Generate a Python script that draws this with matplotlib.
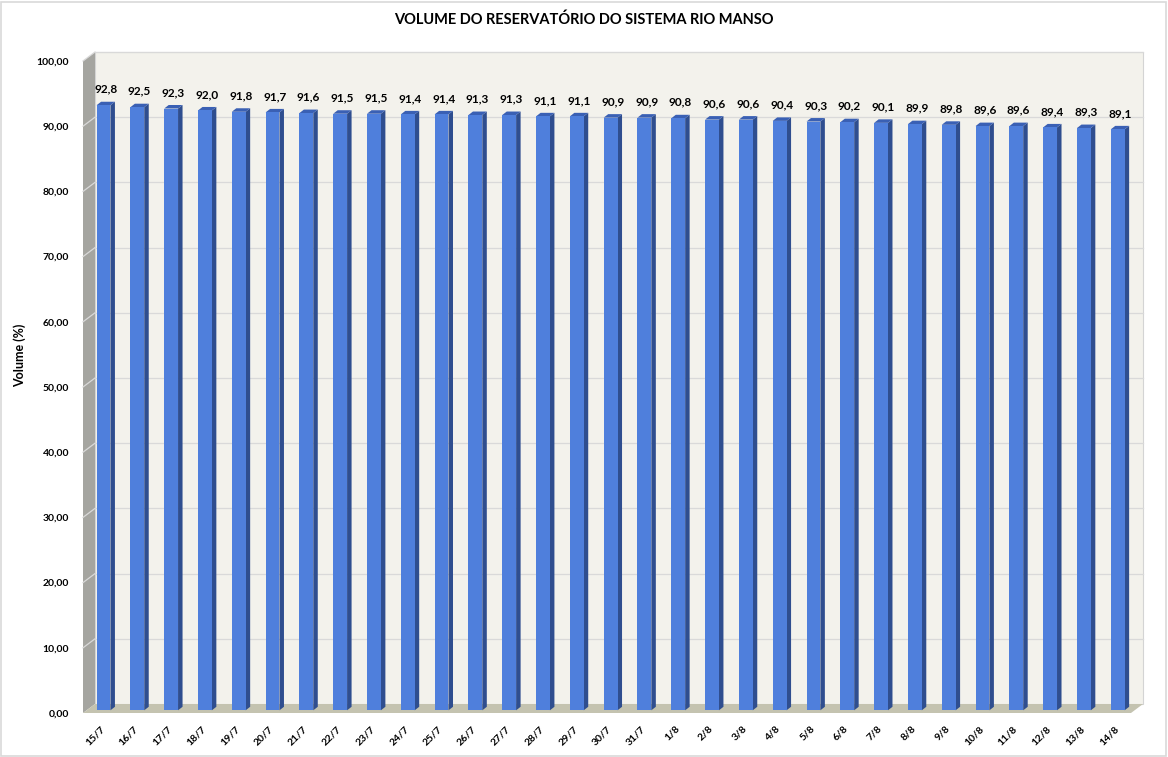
import matplotlib
matplotlib.use("Agg")
import matplotlib.pyplot as plt
from matplotlib.patches import Polygon, Rectangle

plt.rcParams['font.family'] = ['Lato', 'DejaVu Sans']

dates = ["15/7", "16/7", "17/7", "18/7", "19/7", "20/7", "21/7", "22/7", "23/7", "24/7",
         "25/7", "26/7", "27/7", "28/7", "29/7", "30/7", "31/7", "1/8", "2/8", "3/8",
         "4/8", "5/8", "6/8", "7/8", "8/8", "9/8", "10/8", "11/8", "12/8", "13/8", "14/8"]
volume = [92.8, 92.5, 92.3, 92.0, 91.8, 91.7, 91.6, 91.5, 91.5, 91.4,
          91.4, 91.3, 91.3, 91.1, 91.1, 90.9, 90.9, 90.8, 90.6, 90.6,
          90.4, 90.3, 90.2, 90.1, 89.9, 89.8, 89.6, 89.6, 89.4, 89.3, 89.1]
yticks = [0, 10, 20, 30, 40, 50, 60, 70, 80, 90, 100]

W, H = 1168, 757
fig = plt.figure(figsize=(W / 100, H / 100), dpi=100)
fig.patch.set_facecolor('white')
fig.patches.append(Rectangle((1 / W, 1 / H), 1 - 3 / W, 1 - 3 / H, transform=fig.transFigure,
                             fill=False, edgecolor='#D9D9D9', linewidth=1.2))

x0, x1, yb, yt = 83, 1131, 713, 61
ax = fig.add_axes([x0 / W, 1 - yb / H, (x1 - x0) / W, (yb - yt) / H])
n = len(dates)
ax.set_xlim(-0.5, n - 0.5)
ax.set_ylim(0, 100)
for s in ax.spines.values():
    s.set_visible(False)

px_x = (x1 - x0) / n          # pixels per x unit
px_y = (yb - yt) / 100.0      # pixels per y unit
dx = 12 / px_x                # depth offset in data units
dy = 9 / px_y

L, R = -0.5, n - 0.5
# back wall
ax.add_patch(Polygon([(L + dx, dy), (R + dx, dy), (R + dx, 100 + dy), (L + dx, 100 + dy)],
                     closed=True, facecolor='#F3F2EC', edgecolor='#D4D4D4', lw=0.8,
                     clip_on=False, zorder=0))
# side wall
ax.add_patch(Polygon([(L, 0), (L + dx, dy), (L + dx, 100 + dy), (L, 100)],
                     closed=True, facecolor='#A5A5A0', edgecolor='none',
                     clip_on=False, zorder=1))
# floor
ax.add_patch(Polygon([(L, 0), (R, 0), (R + dx, dy), (L + dx, dy)],
                     closed=True, facecolor='#C4C3B0', edgecolor='none',
                     clip_on=False, zorder=1))
# gridlines
for t in yticks[1:]:
    ax.plot([L + dx, R + dx], [t + dy, t + dy], color='#D9D9D9', lw=0.9, zorder=0.5,
            clip_on=False)
    ax.plot([L, L + dx], [t, t + dy], color='#D9D9D9', lw=0.9, zorder=1.5, clip_on=False)

# bars
f = 0.3
hw = 0.205
sdx = 4.5 / px_x
sdy = 3.5 / px_y
for i, v in enumerate(volume):
    cx = i + f * dx
    by = f * dy
    ax.add_patch(Polygon([(cx + hw, by), (cx + hw + sdx, by + sdy), (cx + hw + sdx, v + by + sdy),
                          (cx + hw, v + by)], closed=True, facecolor='#2F4E8F',
                         edgecolor='none', clip_on=False, zorder=3))
    ax.add_patch(Polygon([(cx - hw, v + by), (cx + hw, v + by), (cx + hw + sdx, v + by + sdy),
                          (cx - hw + sdx, v + by + sdy)], closed=True, facecolor='#3A60B4',
                         edgecolor='none', clip_on=False, zorder=3))
    ax.bar(cx, v, width=2 * hw, bottom=by, color='#4F7FDC', zorder=3, clip_on=False)
    ax.annotate(f"{v:.1f}".replace('.', ','), (cx + sdx / 2, v + by + sdy),
                xytext=(0, 5), textcoords='offset points', ha='center', va='bottom',
                fontsize=8.5, fontweight='bold', color='black', zorder=4)

ax.set_yticks(yticks)
ax.set_yticklabels([f"{t:.2f}".replace('.', ',') for t in yticks], fontsize=7.5,
                   fontweight='bold')
ax.tick_params(axis='y', length=0, pad=10)
ax.set_xticks(range(n))
ax.set_xticklabels(dates, rotation=45, ha='right', va='top', rotation_mode='anchor',
                   fontsize=7.5, fontweight='bold')
ax.tick_params(axis='x', length=0, pad=8)
ax.patch.set_visible(False)

fig.text(0.5, 1 - 20 / H, "VOLUME DO RESERVATÓRIO DO SISTEMA RIO MANSO", ha='center',
         va='center', fontsize=10.5, fontweight='bold')
fig.text(20 / W, 1 - 355 / H, "Volume (%)", rotation=90, ha='center', va='center',
         fontsize=9, fontweight='bold')

fig.savefig("out.png", dpi=100, facecolor='white')
